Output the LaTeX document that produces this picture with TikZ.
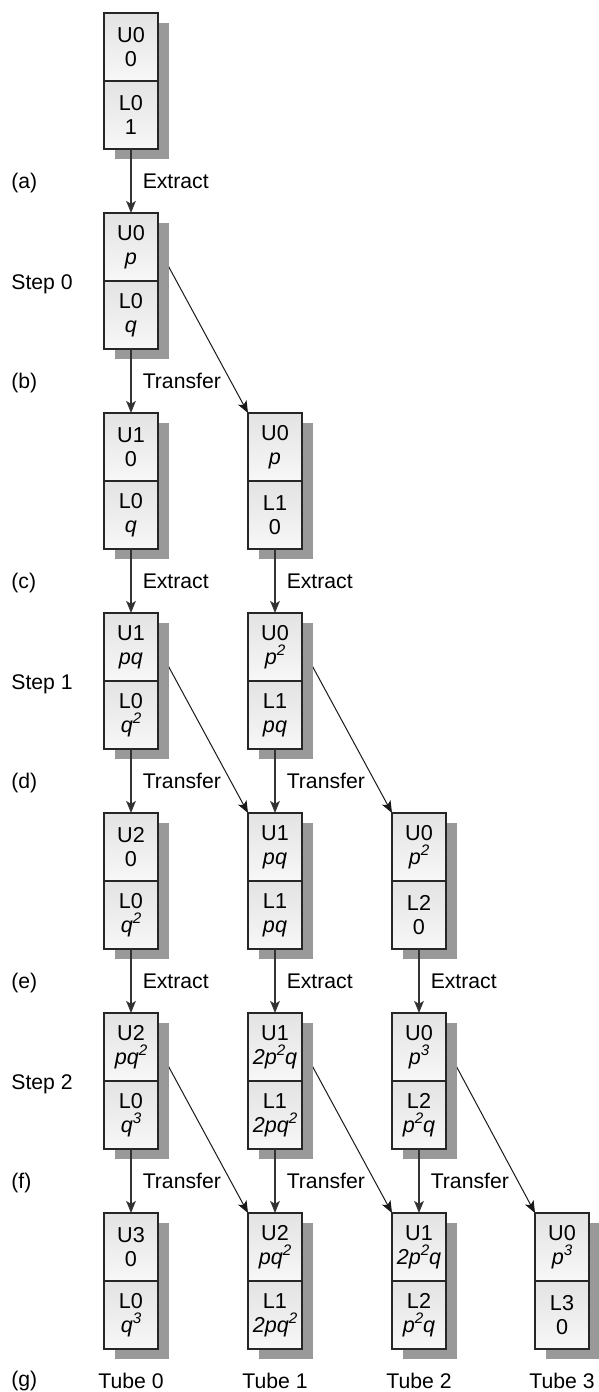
\documentclass[tikz,border=0pt]{standalone}
\usepackage{fontspec}
\setmainfont{Liberation Sans}
\usetikzlibrary{positioning,arrows.meta,shadows,backgrounds}

\newcommand{\pw}[1]{\raisebox{0.42em}{\fontsize{7.6}{8}\selectfont #1}}

\begin{document}
\begin{tikzpicture}[x=0.5pt, y=-0.5pt, >={Stealth[length=6pt,width=4.8pt,inset=1.4pt]},
    half/.style={draw=black!85, line width=0.6pt, top color=black!11, bottom color=black!3,
        minimum width=27pt, minimum height=34pt, inner sep=0pt, outer sep=0pt,
        align=center, font=\fontsize{10.8}{12}\selectfont,
        drop shadow={shadow xshift=5.5pt, shadow yshift=-5pt, fill=black!40, opacity=1}},
    flow/.style={->, draw=black!80, line width=0.75pt},
    move/.style={->, draw=black!90, line width=0.5pt},
    lbl/.style={font=\fontsize{10.6}{12}\selectfont, inner sep=0pt},
    side/.style={lbl, anchor=west}]

\useasboundingbox (0,0) rectangle (599,1392);

% === Row (a) ===
\node[half] (u00) at (131,47) {U0\\0};
\node[half, below=0pt of u00] (l00) {L0\\1};

% === Row after step 0 extract ===
\node[half] (u10) at (131,247) {U0\\\textit{p}};
\node[half, below=0pt of u10] (l10) {L0\\\textit{q}};

% === Row (c) ===
\node[half] (u20) at (131,447) {U1\\0};
\node[half, below=0pt of u20] (l20) {L0\\\textit{q}};
\node[half] (u21) at (275,447) {U0\\\textit{p}};
\node[half, below=0pt of u21] (l21) {L1\\0};

% === Step 1 ===
\node[half] (u30) at (131,647) {U1\\\textit{pq}};
\node[half, below=0pt of u30] (l30) {L0\\\textit{q\pw{2}}};
\node[half] (u31) at (275,647) {U0\\\textit{p\pw{2}}};
\node[half, below=0pt of u31] (l31) {L1\\\textit{pq}};

% === Row (e) ===
\node[half] (u40) at (131,847) {U2\\0};
\node[half, below=0pt of u40] (l40) {L0\\\textit{q\pw{2}}};
\node[half] (u41) at (275,847) {U1\\\textit{pq}};
\node[half, below=0pt of u41] (l41) {L1\\\textit{pq}};
\node[half] (u42) at (419,847) {U0\\\textit{p\pw{2}}};
\node[half, below=0pt of u42] (l42) {L2\\0};

% === Step 2 ===
\node[half] (u50) at (131,1047) {U2\\\textit{pq\pw{2}}};
\node[half, below=0pt of u50] (l50) {L0\\\textit{q\pw{3}}};
\node[half] (u51) at (275,1047) {U1\\\textit{2p\pw{2}q}};
\node[half, below=0pt of u51] (l51) {L1\\\textit{2pq\pw{2}}};
\node[half] (u52) at (419,1047) {U0\\\textit{p\pw{3}}};
\node[half, below=0pt of u52] (l52) {L2\\\textit{p\pw{2}q}};

% === Final tubes ===
\node[half] (u60) at (131,1247) {U3\\0};
\node[half, below=0pt of u60] (l60) {L0\\\textit{q\pw{3}}};
\node[half] (u61) at (275,1247) {U2\\\textit{pq\pw{2}}};
\node[half, below=0pt of u61] (l61) {L1\\\textit{2pq\pw{2}}};
\node[half] (u62) at (419,1247) {U1\\\textit{2p\pw{2}q}};
\node[half, below=0pt of u62] (l62) {L2\\\textit{p\pw{2}q}};
\node[half] (u63) at (562,1247) {U0\\\textit{p\pw{3}}};
\node[half, below=0pt of u63] (l63) {L3\\0};

% === Extract / Transfer (straight down) ===
\draw[flow] (l00) -- (u10) node[lbl, midway, right=5.5pt] {Extract};
\draw[flow] (l10) -- (u20) node[lbl, midway, right=5.5pt] {Transfer};
\draw[flow] (l20) -- (u30) node[lbl, midway, right=5.5pt] {Extract};
\draw[flow] (l21) -- (u31) node[lbl, midway, right=5.5pt] {Extract};
\draw[flow] (l30) -- (u40) node[lbl, midway, right=5.5pt] {Transfer};
\draw[flow] (l31) -- (u41) node[lbl, midway, right=5.5pt] {Transfer};
\draw[flow] (l40) -- (u50) node[lbl, midway, right=5.5pt] {Extract};
\draw[flow] (l41) -- (u51) node[lbl, midway, right=5.5pt] {Extract};
\draw[flow] (l42) -- (u52) node[lbl, midway, right=5.5pt] {Extract};
\draw[flow] (l50) -- (u60) node[lbl, midway, right=5.5pt] {Transfer};
\draw[flow] (l51) -- (u61) node[lbl, midway, right=5.5pt] {Transfer};
\draw[flow] (l52) -- (u62) node[lbl, midway, right=5.5pt] {Transfer};

% === Transfer of upper phase (behind the shadows) ===
\begin{pgfonlayer}{background}
\draw[move] (u10.east) -- (u21.north west);
\draw[move] (u30.east) -- (u41.north west);
\draw[move] (u31.east) -- (u42.north west);
\draw[move] (u50.east) -- (u61.north west);
\draw[move] (u51.east) -- (u62.north west);
\draw[move] (u52.east) -- (u63.north west);
\end{pgfonlayer}

% === Side labels ===
\node[side] (la) at (11,183)   {(a)};
\node[side] (s0) at (11,284)   {Step 0};
\node[side] (lb) at (11,383)   {(b)};
\node[side] (lc) at (11,583)   {(c)};
\node[side] (s1) at (11,684)   {Step 1};
\node[side] (ld) at (11,783)   {(d)};
\node[side] (le) at (11,983)   {(e)};
\node[side] (s2) at (11,1084)  {Step 2};
\node[side] (lf) at (11,1183)  {(f)};
\node[side] (lg) at (11,1381)  {(g)};

% === Tube names ===
\node[lbl] (t0) at (131,1381) {Tube 0};
\node[lbl] (t1) at (275,1381) {Tube 1};
\node[lbl] (t2) at (419,1381) {Tube 2};
\node[lbl] (t3) at (562,1381) {Tube 3};

\end{tikzpicture}
\end{document}
